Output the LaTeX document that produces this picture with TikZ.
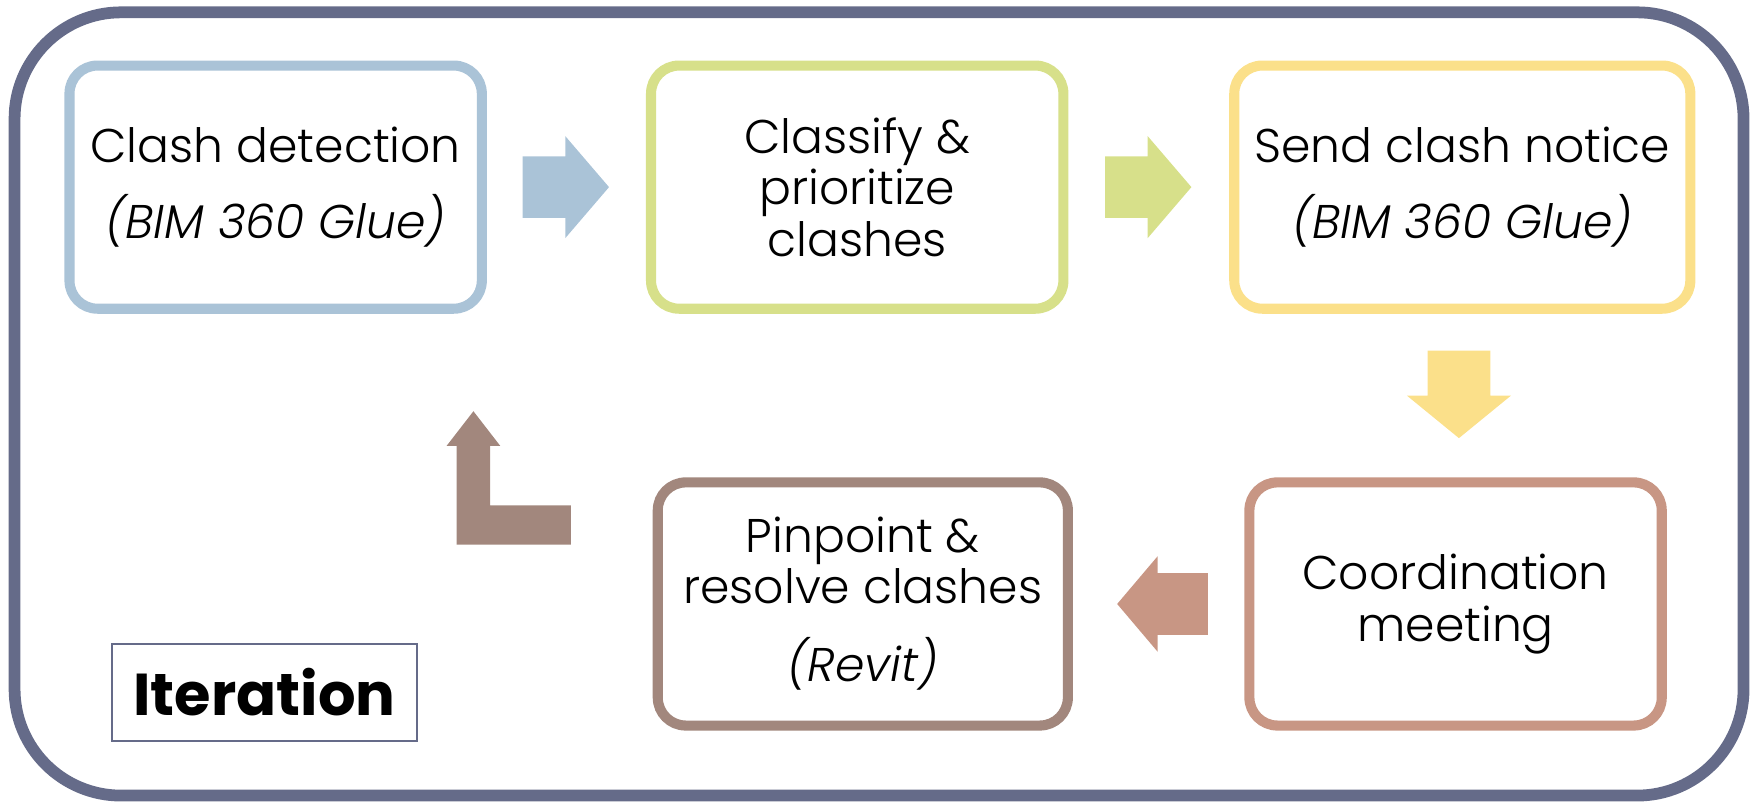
\documentclass[tikz,border=0pt]{standalone}
\usepackage{fontspec}
\setmainfont{Poppins}[UprightFont=* Light, ItalicFont=* Light Italic, BoldFont=* Bold]
\usepackage{xcolor}
\usetikzlibrary{positioning, calc}

\definecolor{frameslate}{RGB}{101,107,137}
\definecolor{stepblue}{RGB}{170,195,215}
\definecolor{stepgreen}{RGB}{215,224,138}
\definecolor{stepyellow}{RGB}{251,224,138}
\definecolor{stepsalmon}{RGB}{200,150,132}
\definecolor{stepbrown}{RGB}{162,135,125}

\tikzset{
  stepbox/.style={draw=#1, line width=0.9mm, rounded corners=2.5mm, fill=white,
    minimum width=36.8mm, minimum height=21.7mm, align=center, inner sep=0pt,
    font=\fontsize{12}{13}\selectfont},
}

\begin{document}
\begin{tikzpicture}[x=0.1mm, y=-0.1mm]
  \useasboundingbox (0,0) rectangle (1568,721);
  % Outer frame
  \draw[frameslate, line width=1.05mm, rounded corners=9.5mm] (13,11) rectangle (1556,710);
  % Top row
  \node[stepbox=stepblue] (detect) at (246,167) {Clash detection\\[2.2mm] \textit{(BIM 360 Glue)}};
  \node[stepbox=stepgreen] (classify) at (765,167) {Classify \&\\ prioritize\\ clashes};
  \node[stepbox=stepyellow, minimum width=40.7mm] (notice) at (1305,167) {Send clash notice\\[2.2mm] \textit{(BIM 360 Glue)}};
  % Bottom row
  \node[stepbox=stepsalmon] (meeting) at (1299,539) {Coordination\\ meeting};
  \node[stepbox=stepbrown, minimum width=36.6mm] (resolve) at (770,539) {Pinpoint \&\\ resolve clashes\\[2.4mm] \textit{(Revit)}};
  % Label
  \node[draw=frameslate, line width=0.2mm, minimum width=27.2mm, minimum height=8.6mm,
    font=\fontsize{15}{16}\selectfont\bfseries] (iter) at (236,618) {Iteration};
  % Block arrows
  \coordinate (a1) at ($(detect.east)!0.5!(classify.west)$);
  \fill[stepblue] ($(a1)+(-39,-27.5)$) -- ++(38,0) -- ++(0,-18) -- ++(39,45.5)
    -- ++(-39,45.5) -- ++(0,-18) -- ++(-38,0) -- cycle;
  \coordinate (a2) at ($(classify.east)!0.5!(notice.west)$);
  \fill[stepgreen] ($(a2)+(-39,-27.5)$) -- ++(38,0) -- ++(0,-18) -- ++(39,45.5)
    -- ++(-39,45.5) -- ++(0,-18) -- ++(-38,0) -- cycle;
  \coordinate (a3) at ($(notice.south)!0.5!(meeting.north)$);
  \fill[stepyellow] ($(a3)+(-28,-40)$) -- ++(56,0) -- ++(0,40) -- ++(18.5,0)
    -- ++(-46.5,38) -- ++(-46.5,-38) -- ++(18.5,0) -- cycle;
  \coordinate (a4) at ($(resolve.east)!0.5!(meeting.west)$);
  \fill[stepsalmon] ($(a4)+(44,-27.5)$) -- ++(-45,0) -- ++(0,-15) -- ++(-36,42.5)
    -- ++(36,42.5) -- ++(0,-15) -- ++(45,0) -- cycle;
  \coordinate (a5) at ($(resolve.west)+(-160,-172)$);
  \fill[stepbrown] (a5) -- ++(24,31) -- ++(-9,0) -- ++(0,53) -- ++(72,0)
    -- ++(0,35) -- ++(-102,0) -- ++(0,-88) -- ++(-9,0) -- cycle;
\end{tikzpicture}
\end{document}
